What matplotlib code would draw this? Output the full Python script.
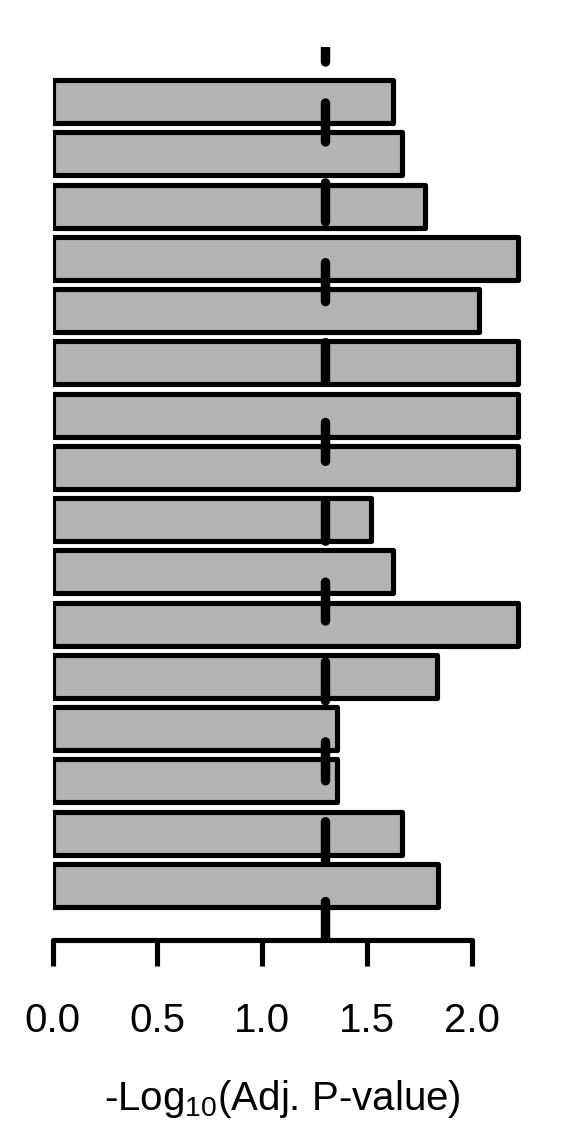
import matplotlib
matplotlib.use('Agg')
import matplotlib.pyplot as plt

# values listed top to bottom
values = [1.625, 1.665, 1.776, 2.222, 2.036, 2.222, 2.222, 2.222,
          1.517, 1.625, 2.222, 1.835, 1.359, 1.359, 1.665, 1.838]
threshold = 1.3
xticks = [0.0, 0.5, 1.0, 1.5, 2.0]
xtick_labels = ['0.0', '0.5', '1.0', '1.5', '2.0']
xlabel = '-Log$_{10}$(Adj. P-value)'

plt.rcParams['font.family'] = ['Liberation Sans', 'DejaVu Sans']
plt.rcParams['mathtext.default'] = 'regular'
plt.rcParams['lines.scale_dashes'] = False

W, H = 566, 1133
fig = plt.figure(figsize=(W / 100, H / 100), dpi=100)
x0 = 52.7
ppu = 209.5
xmax = 2.4
ax = fig.add_axes([x0 / W, 1 - 940 / H, xmax * ppu / W, 893 / H])

n = len(values)
pos = list(range(n - 1, -1, -1))
ax.barh(pos, values, height=0.825, color='#b3b3b3', edgecolor='black',
        linewidth=3.7, joinstyle='round', zorder=2)
ax.axvline(threshold, color='black', lw=6.8, dashes=(28, 29.5),
           dash_capstyle='round', zorder=3)

ax.set_xlim(0, xmax)
ax.set_ylim(-1.045, n - 1 + 1.045)
for s in ['left', 'top', 'right']:
    ax.spines[s].set_visible(False)
ax.spines['bottom'].set_bounds(0, 2.0)
ax.spines['bottom'].set_linewidth(3.7)
ax.spines['bottom'].set_capstyle('round')
ax.set_yticks([])
ax.set_xticks(xticks)
ax.set_xticklabels(xtick_labels)
ax.tick_params(axis='x', direction='out', length=19, width=3.7, pad=26,
               labelsize=29)
fig.text(282.5 / W, 1 - 1099 / H, xlabel, ha='center', va='center', fontsize=29)

fig.savefig('out.png', dpi=100)
